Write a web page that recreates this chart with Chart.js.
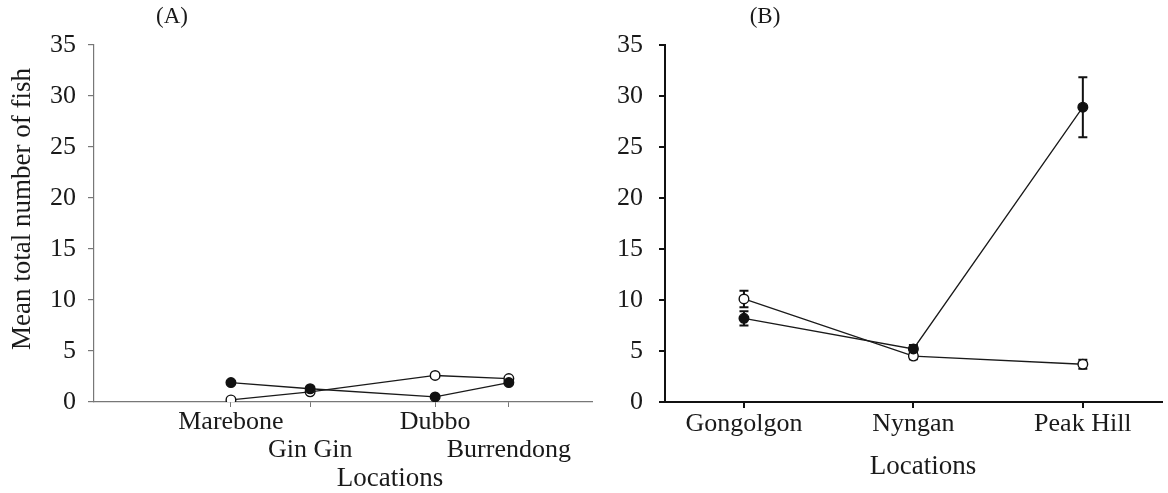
<!DOCTYPE html>
<html>
<head>
<meta charset="utf-8">
<script src="https://cdn.jsdelivr.net/npm/chart.js@4.4.0/dist/chart.umd.min.js"></script>
<style>
  html, body { margin: 0; padding: 0; background: #fff; }
  #wrap { position: relative; width: 1168px; height: 493px; overflow: hidden; }
  #chartA { position: absolute; left: 0; top: 0; }
  #chartB { position: absolute; left: 600px; top: 0; }
</style>
</head>
<body>
<div id="wrap">
  <canvas id="chartA" width="600" height="493"></canvas>
  <canvas id="chartB" width="568" height="493"></canvas>
</div>
<script>
// Panel (A) data
const sitesA = ['Marebone', 'Gin Gin', 'Dubbo', 'Burrendong'];
const siteRowA = [0, 1, 0, 1];                 // label row (staggered)
const sitePosA = [27.5, 43.4, 68.5, 83.3];     // position of each site along the axis
const filledA = [1.9, 1.3, 0.5, 1.9];
const openA = [0.2, 1.0, 2.6, 2.3];

// Panel (B) data
const sitesB = ['Gongolgon', 'Nyngan', 'Peak Hill'];
const sitePosB = [1, 2, 3];
const filledB = [8.2, 5.2, 28.9];
const filledErrB = [0.7, 0.4, 2.95];
const openB = [10.1, 4.5, 3.7];
const openErrB = [0.8, 0.3, 0.45];

// Shared y ticks
const yTicks = [0, 5, 10, 15, 20, 25, 30, 35];

const SERIF = "'Liberation Serif', 'Times New Roman', serif";
const TEXT = '#1a1a1a';

function toPoints(xs, ys) {
  return xs.map((x, i) => ({ x: x, y: ys[i] }));
}

// Error bars, drawn through the chart's own scales
const errorBars = {
  id: 'errorBars',
  beforeDatasetsDraw(chart) {
    const ctx = chart.ctx;
    const xs = chart.scales.x, ys = chart.scales.y;
    chart.data.datasets.forEach(ds => {
      if (!ds.errors) return;
      ds.data.forEach((p, i) => {
        const e = ds.errors[i];
        const px = xs.getPixelForValue(p.x);
        const top = ys.getPixelForValue(p.y + e);
        const bot = ys.getPixelForValue(p.y - e);
        ctx.save();
        ctx.strokeStyle = '#111';
        ctx.lineWidth = 2;
        ctx.beginPath();
        ctx.moveTo(px, top); ctx.lineTo(px, bot);
        ctx.moveTo(px - 4.5, top); ctx.lineTo(px + 4.5, top);
        ctx.moveTo(px - 4.5, bot); ctx.lineTo(px + 4.5, bot);
        ctx.stroke();
        ctx.restore();
      });
    });
  }
};

// Free-standing labels: panel letters and axis titles
const overlayText = {
  id: 'overlayText',
  afterDraw(chart, args, opts) {
    const ctx = chart.ctx;
    (opts.items || []).forEach(it => {
      ctx.save();
      ctx.font = it.font;
      ctx.fillStyle = TEXT;
      ctx.textAlign = 'center';
      ctx.textBaseline = 'middle';
      ctx.translate(it.x, it.y);
      if (it.rotate) ctx.rotate(it.rotate);
      ctx.fillText(it.text, 0, 0);
      ctx.restore();
    });
  }
};

function lineSet(points, filled, errors) {
  return {
    data: points,
    errors: errors,
    borderColor: '#1a1a1a',
    borderWidth: 1.3,
    tension: 0,
    pointRadius: 4.8,
    pointBorderWidth: 1.4,
    pointBorderColor: '#111',
    pointBackgroundColor: filled ? '#111' : '#fff',
    pointHoverRadius: 4.8
  };
}

function yAxis(axisColor, axisWidth, tickPad, width) {
  return {
    min: 0,
    max: 35,
    afterBuildTicks: s => { s.ticks = yTicks.map(v => ({ value: v })); },
    afterFit: s => { s.width = width; },
    border: { display: true, color: axisColor, width: axisWidth },
    grid: { drawOnChartArea: false, drawTicks: true, tickLength: 6, color: axisColor, lineWidth: axisWidth },
    ticks: { color: TEXT, padding: tickPad, font: { family: SERIF, size: 26 } }
  };
}

// Panel (A)
new Chart(document.getElementById('chartA'), {
  type: 'line',
  data: {
    datasets: [
      lineSet(toPoints(sitePosA, filledA), true),
      lineSet(toPoints(sitePosA, openA), false)
    ]
  },
  options: {
    responsive: false,
    animation: false,
    layout: { padding: { top: 45, right: 8, left: 0, bottom: 0 } },
    plugins: {
      legend: { display: false },
      tooltip: { enabled: false },
      overlayText: {
        items: [
          { text: '(A)', x: 172, y: 17, font: '23px ' + SERIF },
          { text: 'Locations', x: 390, y: 479, font: '27px ' + SERIF },
          { text: 'Mean total number of fish', x: 23, y: 209, rotate: -Math.PI / 2, font: '27px ' + SERIF }
        ]
      }
    },
    scales: {
      x: {
        type: 'linear',
        min: 0,
        max: 100,
        afterBuildTicks: s => { s.ticks = sitePosA.map(v => ({ value: v })); },
        afterFit: s => { s.height = 91; },
        border: { display: true, color: '#777', width: 1.2 },
        grid: { drawOnChartArea: false, drawTicks: true, tickLength: 5, color: '#777' },
        ticks: {
          color: TEXT,
          padding: 1,
          maxRotation: 0,
          autoSkip: false,
          font: { family: SERIF, size: 26, lineHeight: 1.08 },
          callback: v => {
            const i = sitePosA.indexOf(v);
            if (i < 0) return '';
            return siteRowA[i] === 0 ? [sitesA[i]] : ['', sitesA[i]];
          }
        }
      },
      y: yAxis('#777', 1.2, 12, 94)
    }
  },
  plugins: [overlayText]
});

// Panel (B)
new Chart(document.getElementById('chartB'), {
  type: 'line',
  data: {
    datasets: [
      lineSet(toPoints(sitePosB, filledB), true, filledErrB),
      lineSet(toPoints(sitePosB, openB), false, openErrB)
    ]
  },
  options: {
    responsive: false,
    animation: false,
    layout: { padding: { top: 45, right: 0, left: 0, bottom: 0 } },
    plugins: {
      legend: { display: false },
      tooltip: { enabled: false },
      overlayText: {
        items: [
          { text: '(B)', x: 165, y: 17, font: '23px ' + SERIF },
          { text: 'Locations', x: 323, y: 467, font: '27px ' + SERIF }
        ]
      }
    },
    scales: {
      x: {
        type: 'linear',
        min: 0.534,
        max: 3.466,
        afterBuildTicks: s => { s.ticks = sitePosB.map(v => ({ value: v })); },
        afterFit: s => { s.height = 91; },
        border: { display: true, color: '#111', width: 2 },
        grid: { drawOnChartArea: false, drawTicks: true, tickLength: 6, color: '#111', lineWidth: 2 },
        ticks: {
          color: TEXT,
          padding: 1,
          maxRotation: 0,
          autoSkip: false,
          font: { family: SERIF, size: 26 },
          callback: v => {
            const i = sitePosB.indexOf(v);
            return i < 0 ? '' : sitesB[i];
          }
        }
      },
      y: yAxis('#111', 2, 16, 65)
    }
  },
  plugins: [errorBars, overlayText]
});
</script>
</body>
</html>
